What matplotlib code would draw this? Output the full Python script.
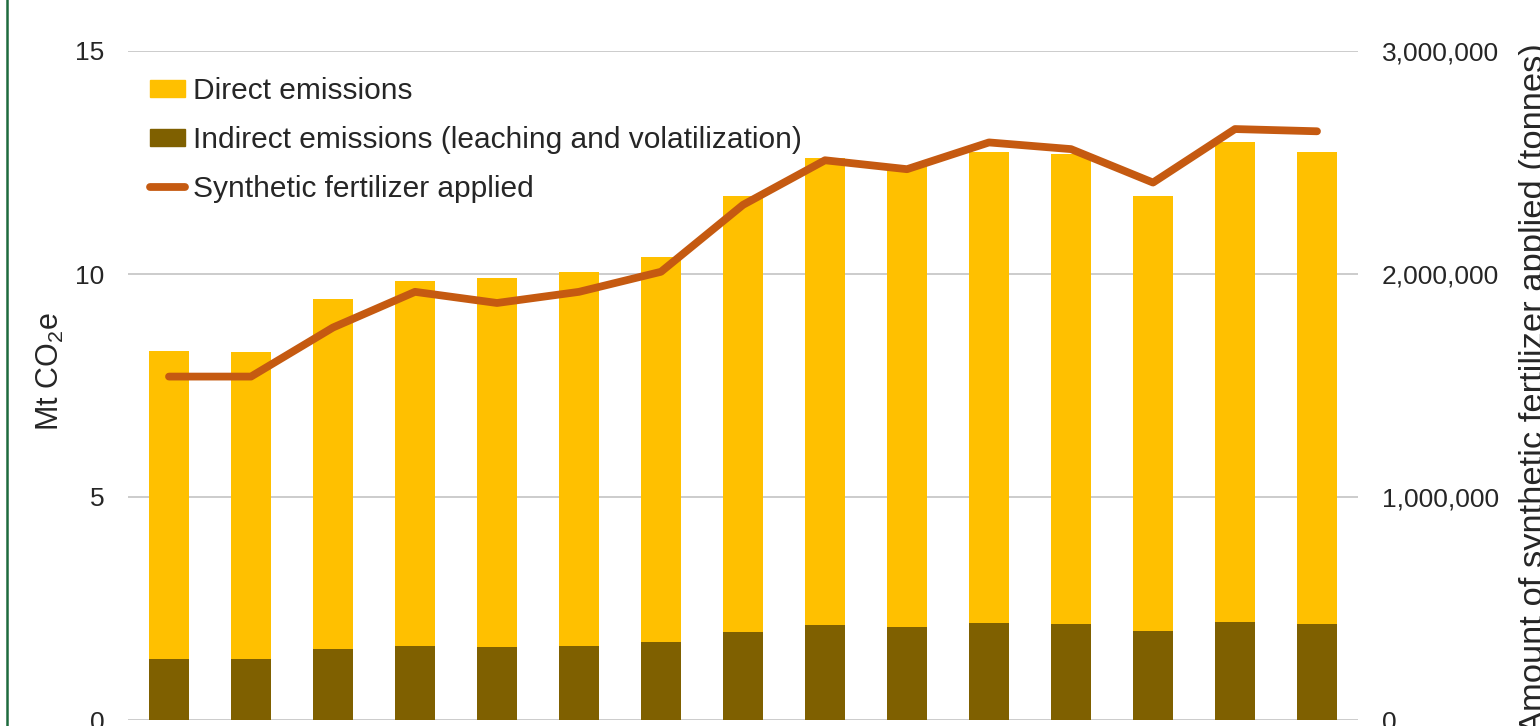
import matplotlib
matplotlib.use("Agg")
import matplotlib.pyplot as plt
import numpy as np
from matplotlib.patches import Patch
from matplotlib.lines import Line2D
from matplotlib.ticker import FuncFormatter

plt.rcParams['font.family'] = ['Liberation Sans', 'DejaVu Sans']
plt.rcParams['mathtext.default'] = 'regular'

# emissions in Mt CO2e, one bar per year (15 years, x labels cropped off)
indirect = [1.37, 1.37, 1.59, 1.66, 1.64, 1.67, 1.75, 1.97, 2.13, 2.09, 2.17, 2.15, 2.00, 2.20, 2.15]
direct = [6.90, 6.88, 7.85, 8.18, 8.27, 8.37, 8.63, 9.78, 10.47, 10.33, 10.57, 10.55, 9.75, 10.76, 10.59]
# synthetic fertilizer applied, tonnes
fertilizer = [1540000, 1540000, 1760000, 1920000, 1870000, 1920000, 2010000, 2310000,
              2510000, 2470000, 2590000, 2560000, 2410000, 2650000, 2640000]

left_ticks = [0, 5, 10, 15]
right_ticks = [0, 1000000, 2000000, 3000000]

yellow = '#FFC000'
brown = '#7F6000'
orange = '#C55A11'
grid_col = '#C4C4C4'
txt = '#262626'

W, H = 1540, 726
fig = plt.figure(figsize=(W / 100, H / 100), dpi=100)
ax = fig.add_axes([128 / W, 6 / H, 1230 / W, 669 / H])
ax2 = ax.twinx()

x = np.arange(len(direct))
ax.bar(x, indirect, width=0.49, color=brown, zorder=2)
ax.bar(x, direct, bottom=indirect, width=0.49, color=yellow, zorder=2)
ax2.plot(x, fertilizer, color=orange, lw=5.6, solid_capstyle='round', solid_joinstyle='round')

ax.set_xlim(-0.5, len(direct) - 0.5)
ax.set_ylim(0, 15)
ax2.set_ylim(0, 3000000)
ax.set_yticks(left_ticks)
ax2.set_yticks(right_ticks)
ax2.yaxis.set_major_formatter(FuncFormatter(lambda v, p: f"{int(v):,}"))
ax.set_xticks([])

ax.yaxis.grid(True, color=grid_col, lw=1.2, zorder=0)
ax.set_axisbelow(True)
for a in (ax, ax2):
    for s in a.spines.values():
        s.set_visible(False)
ax.tick_params(axis='y', length=0, pad=17, labelsize=19, labelcolor=txt)
ax2.tick_params(axis='y', length=0, pad=17, labelsize=19, labelcolor=txt)

ax.set_ylabel(r'Mt CO$_2$e', fontsize=22, color=txt)
ax.yaxis.set_label_coords(-0.05, 0.52)
ax2.set_ylabel('Amount of synthetic fertilizer applied (tonnes)', fontsize=24.8, color=txt)
ax2.yaxis.set_label_coords(1.131, 0.496)

handles = [Patch(color=yellow), Patch(color=brown),
           Line2D([], [], color=orange, lw=5.6, solid_capstyle='round')]
labels = ['Direct emissions', 'Indirect emissions (leaching and volatilization)',
          'Synthetic fertilizer applied']
leg = ax2.legend(handles, labels, loc='upper left', bbox_to_anchor=(0.018, 0.961),
                 frameon=False, fontsize=21.5, borderpad=0, borderaxespad=0,
                 handlelength=1.17, handleheight=0.52, handletextpad=0.27,
                 labelspacing=0.7)
for t in leg.get_texts():
    t.set_color(txt)

# green frame edge on the left
fig.add_artist(Line2D([7 / W, 7 / W], [0, 1], transform=fig.transFigure,
                      color='#1E6B3E', lw=1.8))

fig.savefig('out.png', dpi=100, facecolor='white')
